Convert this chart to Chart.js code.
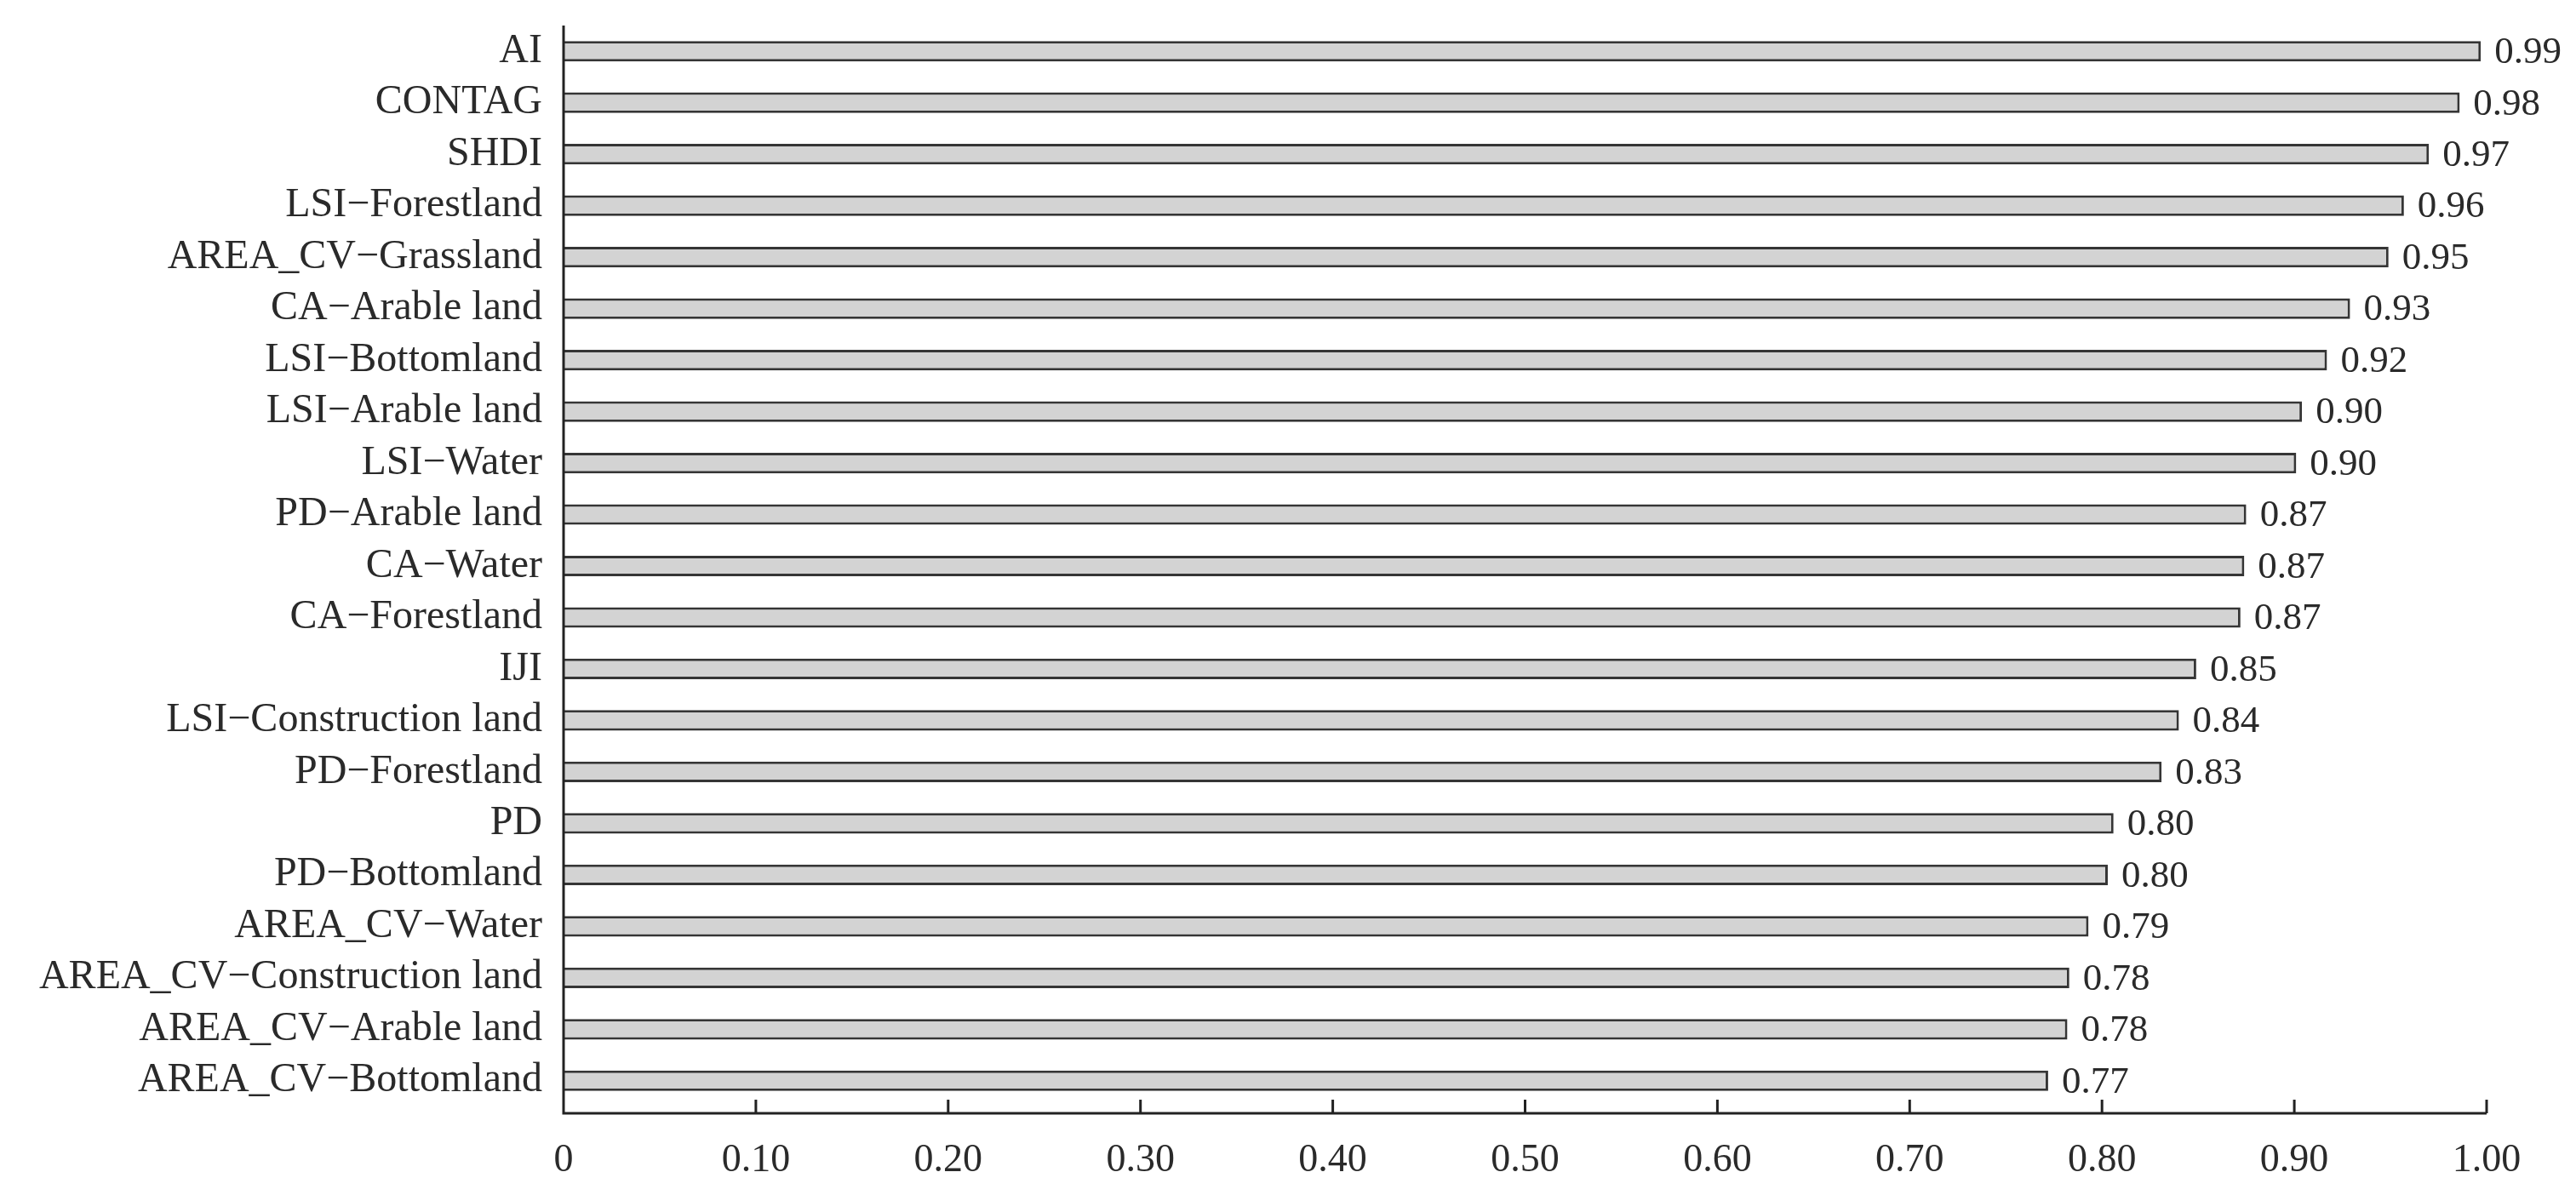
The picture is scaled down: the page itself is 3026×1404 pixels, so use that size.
<!DOCTYPE html>
<html>
<head>
<meta charset="utf-8">
<script src="https://cdn.jsdelivr.net/npm/chart.js@4.4.1/dist/chart.umd.min.js"></script>
<style>
  html, body { margin: 0; padding: 0; background: #fff; }
  #wrap { width: 3026px; height: 1404px; position: relative; }
</style>
</head>
<body>
<div id="wrap"><canvas id="importanceChart"></canvas></div>
<script>
// data
const categories = [
  'AI', 'CONTAG', 'SHDI', 'LSI\u2212Forestland', 'AREA_CV\u2212Grassland',
  'CA\u2212Arable land', 'LSI\u2212Bottomland', 'LSI\u2212Arable land', 'LSI\u2212Water',
  'PD\u2212Arable land', 'CA\u2212Water', 'CA\u2212Forestland', 'IJI',
  'LSI\u2212Construction land', 'PD\u2212Forestland', 'PD', 'PD\u2212Bottomland',
  'AREA_CV\u2212Water', 'AREA_CV\u2212Construction land', 'AREA_CV\u2212Arable land',
  'AREA_CV\u2212Bottomland'
];
const importance = [
  0.997, 0.986, 0.970, 0.957, 0.949,
  0.929, 0.917, 0.904, 0.901,
  0.875, 0.874, 0.872, 0.849,
  0.840, 0.831, 0.806, 0.803,
  0.793, 0.783, 0.782,
  0.772
];
const valueLabels = [
  '0.99', '0.98', '0.97', '0.96', '0.95',
  '0.93', '0.92', '0.90', '0.90',
  '0.87', '0.87', '0.87', '0.85',
  '0.84', '0.83', '0.80', '0.80',
  '0.79', '0.78', '0.78',
  '0.77'
];
const xTickLabels = ['0', '0.10', '0.20', '0.30', '0.40', '0.50', '0.60', '0.70', '0.80', '0.90', '1.00'];

const FONT = "'Liberation Serif', 'Times New Roman', serif";
const INK = '#2a2a2a';
const AXIS_GAP = 8;   // x axis line sits a little below the last category

Chart.defaults.font.family = FONT;
Chart.defaults.color = INK;

// axis lines with inward ticks
const axesPlugin = {
  id: 'axesPlugin',
  afterDatasetsDraw(chart) {
    const { ctx, chartArea, scales } = chart;
    const base = chartArea.bottom + AXIS_GAP;
    ctx.save();
    ctx.strokeStyle = '#222';
    ctx.lineWidth = 3;
    ctx.beginPath();
    ctx.moveTo(chartArea.left, chartArea.top);
    ctx.lineTo(chartArea.left, base);
    ctx.lineTo(chartArea.right, base);
    ctx.stroke();
    ctx.beginPath();
    scales.x.ticks.forEach(t => {
      if (t.value === 0) return;
      const px = scales.x.getPixelForValue(t.value);
      ctx.moveTo(px, base);
      ctx.lineTo(px, base - 16);
    });
    ctx.stroke();
    ctx.restore();
  }
};

// numbers at the end of each bar
const valueLabelPlugin = {
  id: 'valueLabelPlugin',
  afterDatasetsDraw(chart) {
    const { ctx } = chart;
    const meta = chart.getDatasetMeta(0);
    ctx.save();
    ctx.font = '45px ' + FONT;
    ctx.fillStyle = INK;
    ctx.textAlign = 'left';
    ctx.textBaseline = 'middle';
    meta.data.forEach((bar, i) => {
      ctx.fillText(valueLabels[i], bar.x + 16, bar.y + 2);
    });
    ctx.restore();
  }
};

new Chart(document.getElementById('importanceChart'), {
  type: 'bar',
  data: {
    labels: categories,
    datasets: [{
      data: importance,
      backgroundColor: '#d3d3d3',
      borderColor: '#353535',
      borderWidth: 3,
      borderSkipped: 'start',
      barPercentage: 0.4,
      categoryPercentage: 1.0
    }]
  },
  options: {
    indexAxis: 'y',
    responsive: true,
    maintainAspectRatio: false,
    animation: false,
    devicePixelRatio: 1,
    layout: { padding: { top: 30, right: 105, left: 0, bottom: 0 } },
    plugins: {
      legend: { display: false },
      tooltip: { enabled: false }
    },
    scales: {
      x: {
        type: 'linear',
        min: 0,
        max: 1,
        border: { display: false },
        grid: { display: false, drawTicks: false },
        ticks: {
          stepSize: 0.1,
          padding: 36,
          maxRotation: 0,
          autoSkip: false,
          font: { size: 46 },
          color: INK,
          callback: (v, i) => xTickLabels[i]
        },
        afterFit: (scale) => { scale.height = 104; }
      },
      y: {
        border: { display: false },
        grid: { display: false, drawTicks: false },
        ticks: {
          padding: 25,
          autoSkip: false,
          font: { size: 48 },
          color: INK
        },
        afterFit: (scale) => {
          scale.width = 662;
          scale.paddingTop = 0;
          scale.paddingBottom = 0;
        }
      }
    }
  },
  plugins: [axesPlugin, valueLabelPlugin]
});
</script>
</body>
</html>
